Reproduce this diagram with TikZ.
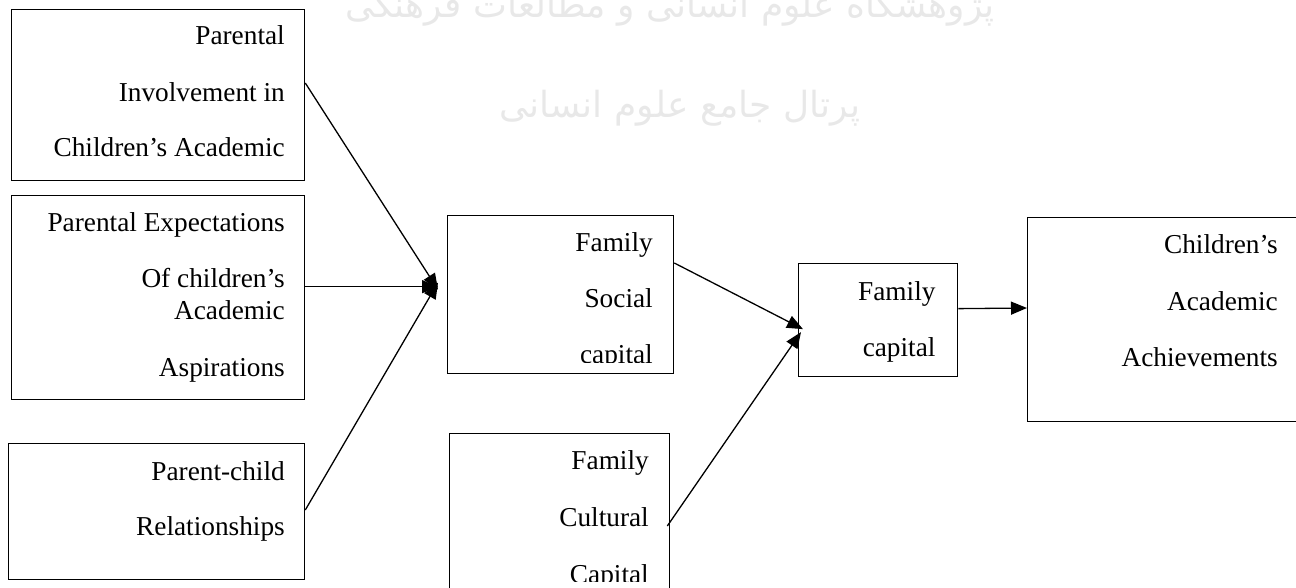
\documentclass[tikz,border=0pt]{standalone}
\usepackage{fontspec}
\setmainfont{Liberation Serif}
\newfontfamily\arabicfont[Script=Arabic]{DejaVu Sans}
\TeXXeTstate=1
\usetikzlibrary{arrows.meta}
\begin{document}
\begin{tikzpicture}[x=1pt,y=-1pt,
  box/.style={draw, line width=1.3pt, inner sep=0pt, anchor=north west},
  lbl/.style={anchor=base east, inner sep=0pt, font=\fontsize{27.3}{32}\selectfont},
  conn/.style={line width=1.3pt, -{Triangle[length=16pt,width=13pt]}},
  wm/.style={text=black!9, inner sep=0pt, font=\arabicfont\fontsize{36}{40}\selectfont}]
\useasboundingbox (0,0) rectangle (1296,588);
% watermark
\node[wm] (wmA) at (670,6) {\beginR پژوهشگاه علوم انسانی و مطالعات فرهنگی\endR};
\node[wm] (wmB) at (680,108) {\beginR پرتال جامع علوم انسانی\endR};
% boxes
\node[box, minimum width=293pt, minimum height=171pt] (b1) at (11,9) {};
\node[box, minimum width=293pt, minimum height=204pt] (b2) at (11,195) {};
\node[box, minimum width=296pt, minimum height=136pt] (b3) at (8,443) {};
\node[box, minimum width=226pt, minimum height=158pt] (soc) at (447,215) {};
\node[box, minimum width=220pt, minimum height=200pt] (cul) at (449,433) {};
\node[box, minimum width=159pt, minimum height=113pt] (fam) at (798,263) {};
\node[box, minimum width=300pt, minimum height=204pt] (ach) at (1027,217) {};
% texts
\node[lbl] (t1a) at (285,45) {Parental};
\node[lbl] (t1b) at (285,101.7) {Involvement in};
\node[lbl] (t1c) at (285,156.7) {Children’s Academic};
\node[lbl] (t2a) at (285,231.7) {Parental Expectations};
\node[lbl] (t2b) at (285,287.3) {Of children’s};
\node[lbl] (t2c) at (285,319.3) {Academic};
\node[lbl] (t2d) at (285,376) {Aspirations};
\node[lbl] (t3a) at (285,480) {Parent-child};
\node[lbl] (t3b) at (285,535) {Relationships};
\node[lbl] (s1) at (653,251.7) {Family};
\node[lbl] (s2) at (653,307.3) {Social};
\begin{scope}
  \clip (450,330) rectangle (670,362);
  \node[lbl] (s3) at (653,363.5) {capital};
\end{scope}
\node[lbl] (c1) at (649,469.3) {Family};
\node[lbl] (c2) at (649,526) {Cultural};
\begin{scope}
  \clip (450,550) rectangle (667,581.5);
  \node[lbl] (c3) at (649,583) {Capital};
\end{scope}
\node[lbl] (f1) at (935.7,300) {Family};
\node[lbl] (f2) at (935.7,356) {capital};
\node[lbl] (a1) at (1278,254) {Children’s};
\node[lbl] (a2) at (1278,310) {Academic};
\node[lbl] (a3) at (1278,366.7) {Achievements};
% connectors
\coordinate (socin) at ([xshift=-9pt,yshift=8pt]soc.west);
\coordinate (famin) at ([xshift=5pt,yshift=-9pt]fam.west);
\draw[conn] ([yshift=-74pt]b1.north east) -- ([yshift=-3pt]socin);
\draw[conn] ([yshift=11pt]b2.east) -- (socin);
\draw[conn] ([yshift=-67pt]b3.north east) -- ([yshift=4pt]socin);
\draw[conn] ([yshift=-48pt]soc.north east) -- (famin);
\draw[conn] ([xshift=-3pt,yshift=-93pt]cul.north east) -- ([xshift=-2pt,yshift=-3pt]famin);
\draw[conn] ([yshift=11.5pt]fam.east) -- ([yshift=-91pt]ach.north west);
\end{tikzpicture}
\end{document}
